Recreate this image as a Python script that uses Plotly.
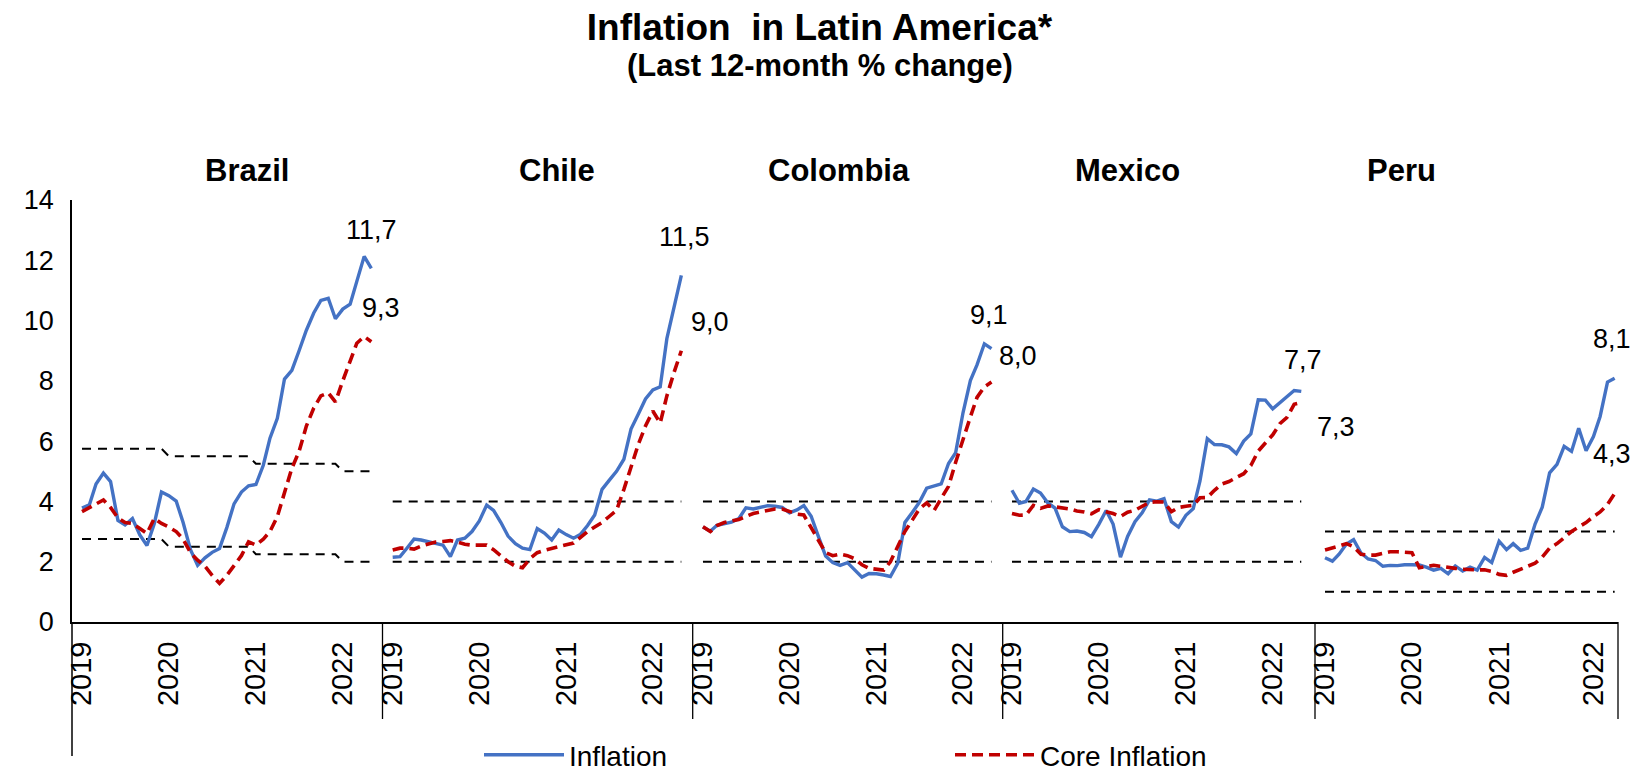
import pandas as pd
import plotly.graph_objects as go
from plotly.subplots import make_subplots

# Monthly data, Jan 2019 - May 2022 (last 12-month % change)
months = pd.date_range("2019-01-01", "2022-05-01", freq="MS")
countries = ["Brazil", "Chile", "Colombia", "Mexico", "Peru"]

brazil_infl = [3.78, 3.89, 4.58, 4.94, 4.66, 3.37, 3.22, 3.43, 2.89, 2.54, 3.27, 4.31,
               4.19, 4.01, 3.30, 2.40, 1.88, 2.13, 2.31, 2.44, 3.14, 3.92, 4.31, 4.52,
               4.56, 5.20, 6.10, 6.76, 8.06, 8.35, 8.99, 9.68, 10.25, 10.67, 10.74, 10.06,
               10.38, 10.54, 11.30, 12.13, 11.73]
brazil_core = [3.66, 3.80, 3.90, 4.05, 3.80, 3.45, 3.30, 3.27, 3.10, 2.94, 3.44, 3.27,
               3.15, 3.00, 2.75, 2.30, 2.05, 1.85, 1.55, 1.28, 1.55, 1.85, 2.20, 2.66,
               2.55, 2.75, 3.00, 3.50, 4.30, 5.10, 5.65, 6.50, 7.10, 7.50, 7.60, 7.30,
               8.00, 8.70, 9.25, 9.47, 9.30]

chile_infl = [2.15, 2.17, 2.44, 2.75, 2.72, 2.67, 2.62, 2.55, 2.17, 2.72, 2.78, 3.00,
              3.35, 3.88, 3.70, 3.30, 2.85, 2.60, 2.45, 2.40, 3.10, 2.95, 2.72, 3.05,
              2.90, 2.78, 2.90, 3.20, 3.55, 4.40, 4.70, 5.00, 5.40, 6.40, 6.90, 7.40,
              7.70, 7.80, 9.40, 10.50, 11.50]
chile_core = [2.39, 2.45, 2.45, 2.42, 2.52, 2.60, 2.65, 2.67, 2.70, 2.65, 2.58, 2.55,
              2.55, 2.55, 2.40, 2.20, 2.00, 1.85, 1.80, 2.10, 2.30, 2.38, 2.44, 2.50,
              2.55, 2.62, 2.80, 3.00, 3.15, 3.30, 3.50, 3.70, 4.40, 5.10, 5.90, 6.50,
              7.00, 6.60, 7.50, 8.30, 9.00]

colombia_infl = [3.15, 3.01, 3.21, 3.25, 3.31, 3.43, 3.79, 3.75, 3.82, 3.86, 3.84, 3.80,
                 3.62, 3.72, 3.86, 3.51, 2.85, 2.19, 1.97, 1.88, 1.97, 1.75, 1.49, 1.61,
                 1.60, 1.56, 1.51, 1.95, 3.30, 3.63, 3.97, 4.44, 4.51, 4.58, 5.26, 5.62,
                 6.94, 8.01, 8.53, 9.23, 9.07]
colombia_core = [3.16, 3.00, 3.20, 3.30, 3.35, 3.40, 3.50, 3.60, 3.65, 3.70, 3.75, 3.75,
                 3.65, 3.58, 3.55, 3.10, 2.72, 2.30, 2.20, 2.25, 2.20, 2.10, 1.90, 1.78,
                 1.75, 1.72, 2.00, 2.50, 3.00, 3.38, 3.75, 3.95, 3.70, 4.10, 4.50, 5.30,
                 6.10, 6.80, 7.45, 7.80, 7.96]

mexico_infl = [4.37, 3.94, 4.00, 4.41, 4.28, 3.95, 3.78, 3.16, 3.00, 3.02, 2.97, 2.83,
               3.24, 3.70, 3.25, 2.15, 2.84, 3.33, 3.62, 4.05, 4.01, 4.09, 3.33, 3.15,
               3.54, 3.76, 4.67, 6.08, 5.89, 5.88, 5.81, 5.59, 6.00, 6.24, 7.37, 7.36,
               7.07, 7.28, 7.45, 7.68, 7.65]
mexico_core = [3.60, 3.54, 3.55, 3.87, 3.77, 3.85, 3.82, 3.78, 3.75, 3.68, 3.65, 3.59,
               3.73, 3.66, 3.60, 3.50, 3.64, 3.71, 3.85, 3.97, 3.99, 3.98, 3.66, 3.80,
               3.84, 3.87, 4.12, 4.13, 4.37, 4.58, 4.66, 4.78, 4.92, 5.19, 5.67, 5.94,
               6.21, 6.59, 6.78, 7.22, 7.28]

peru_infl = [2.13, 2.02, 2.25, 2.59, 2.73, 2.29, 2.09, 2.04, 1.85, 1.88, 1.87, 1.90,
             1.90, 1.89, 1.82, 1.72, 1.78, 1.60, 1.86, 1.69, 1.82, 1.72, 2.14, 1.97,
             2.68, 2.40, 2.60, 2.38, 2.45, 3.25, 3.81, 4.95, 5.23, 5.83, 5.66, 6.43,
             5.68, 6.15, 6.82, 7.96, 8.09]
peru_core = [2.39, 2.45, 2.52, 2.60, 2.50, 2.25, 2.22, 2.22, 2.28, 2.33, 2.33, 2.32,
             2.30, 1.80, 1.85, 1.88, 1.85, 1.80, 1.78, 1.75, 1.73, 1.73, 1.73, 1.68,
             1.58, 1.55, 1.65, 1.75, 1.82, 1.95, 2.15, 2.45, 2.60, 2.80, 3.00, 3.15,
             3.30, 3.50, 3.65, 3.90, 4.26]

# Inflation target ranges (lower, upper) by year
brazil_target_low = {2019: 2.75, 2020: 2.5, 2021: 2.25, 2022: 2.0}
brazil_target_high = {2019: 5.75, 2020: 5.5, 2021: 5.25, 2022: 5.0}
chile_target = (2, 4)
colombia_target = (2, 4)
mexico_target = (2, 4)
peru_target = (1, 3)

infl = [brazil_infl, chile_infl, colombia_infl, mexico_infl, peru_infl]
core = [brazil_core, chile_core, colombia_core, mexico_core, peru_core]
bands = [
    ([brazil_target_low[d.year] for d in months], [brazil_target_high[d.year] for d in months]),
    ([chile_target[0]] * len(months), [chile_target[1]] * len(months)),
    ([colombia_target[0]] * len(months), [colombia_target[1]] * len(months)),
    ([mexico_target[0]] * len(months), [mexico_target[1]] * len(months)),
    ([peru_target[0]] * len(months), [peru_target[1]] * len(months)),
]

BLUE = "#4472C4"
RED = "#C00000"
FONT = "Liberation Sans, Arial, sans-serif"

# Geometry in page pixels; the page body adds an 8px offset to the figure
W, H = 1639, 773
OFF = 8
PL, PR, PT, PB = 72, 1618, 200, 622
edges = [72, 382.5, 692.7, 1002.7, 1315, 1618]
# x range of each panel, in months from Jan 2019
panel_ranges = [(-1.38, 41.49), (-1.41, 41.52), (-1.42, 41.5), (-1.28, 41.84), (-1.38, 40.41)]
# offsets (px) of the last-value labels: (infl dx, infl dy, core dx, core dy)
label_shift = [(0, 38, 10, 34), (3, 38, 29, 29), (-2, 34, 27, 26), (2, 31, 35, -24), (-3, 39, -3, 40)]


def mdate(m):
    return pd.Timestamp("2019-01-01") + pd.Timedelta(days=30.44 * m)


def px_x(p):
    return (p - PL) / (PR - PL)


def px_y(p):
    return (PB - p) / (PB - PT)


fig = make_subplots(rows=1, cols=5, shared_yaxes=True, horizontal_spacing=0)

for k, name in enumerate(countries):
    col = k + 1
    low, high = bands[k]
    for band in (high, low):
        fig.add_trace(go.Scatter(x=months, y=band, mode="lines", showlegend=False,
                                 line=dict(color="black", width=2, dash="9px,7px"),
                                 hoverinfo="skip"), row=1, col=col)
    fig.add_trace(go.Scatter(x=months, y=infl[k], mode="lines", name="Inflation",
                             legendgroup="infl", showlegend=(k == 0),
                             line=dict(color=BLUE, width=3.4)), row=1, col=col)
    fig.add_trace(go.Scatter(x=months, y=core[k], mode="lines", name="Core Inflation",
                             legendgroup="core", showlegend=(k == 0),
                             line=dict(color=RED, width=3.6, dash="11px,6px")), row=1, col=col)

    xa = "xaxis" if k == 0 else f"xaxis{col}"
    ticks = ["2019-01-01", "2020-01-01", "2021-01-01", "2022-01-01" if k < 4 else "2022-02-01"]
    r0, r1 = panel_ranges[k]
    fig.layout[xa].update(
        domain=[px_x(edges[k]), px_x(edges[k + 1])],
        range=[mdate(r0), mdate(r1)],
        tickvals=ticks, ticktext=["2019", "2020", "2021", "2022"],
        tickangle=-90, tickfont=dict(size=29, color="black"),
        showgrid=False, zeroline=False, showline=True, linecolor="black", linewidth=2,
        ticks="", ticklabelstandoff=6, automargin=False,
    )

    # last-value labels
    xref = "x" if k == 0 else f"x{col}"
    yref = "y" if k == 0 else f"y{col}"
    dx1, dy1, dx2, dy2 = label_shift[k]
    for series, dx, dy in ((infl[k], dx1, dy1), (core[k], dx2, dy2)):
        fig.add_annotation(x=months[-1], y=series[-1], xref=xref, yref=yref,
                           text=f"{series[-1]:.1f}".replace(".", ","), showarrow=False,
                           xanchor="center", yanchor="middle",
                           xshift=dx, yshift=dy, font=dict(size=27, color="black"))

# country titles
title_x = [247, 557, 839, 1127, 1401]
for name, tx in zip(countries, title_x):
    fig.add_annotation(x=px_x(tx), y=px_y(170), xref="paper", yref="paper", showarrow=False,
                       xanchor="center", yanchor="middle",
                       text=f"<b>{name}</b>", font=dict(size=31, color="black"))

fig.add_annotation(x=px_x(819.5), y=px_y(65), xref="paper", yref="paper", showarrow=False,
                   xanchor="center", yanchor="middle",
                   text="<b>(Last 12-month % change)</b>", font=dict(size=31, color="black"))

# category-axis separators below the x axis
for e in edges[1:]:
    fig.add_shape(type="line", xref="paper", yref="paper", x0=px_x(e), x1=px_x(e),
                  y0=0, y1=px_y(719), line=dict(color="black", width=1.3))
fig.add_shape(type="line", xref="paper", yref="paper", x0=0, x1=0,
              y0=0, y1=px_y(756), line=dict(color="black", width=1.5))

fig.update_yaxes(range=[0, 14], dtick=2, showgrid=False, zeroline=False, ticks="", automargin=False)
fig.update_yaxes(showline=True, linecolor="black", linewidth=1.5,
                 tickfont=dict(size=27, color="black"), ticklabelstandoff=11, row=1, col=1)

fig.update_layout(
    width=W, height=H,
    margin=dict(l=PL - OFF, r=W - (PR - OFF), t=PT - OFF, b=H - (PB - OFF)),
    paper_bgcolor="white", plot_bgcolor="white",
    font=dict(family=FONT, color="black"),
    title=dict(text="<b>Inflation\u00a0 in Latin America*</b>", x=(819.5 - OFF) / W, xanchor="center",
               xref="container", y=1 - (27 - OFF) / H, yref="container", yanchor="middle",
               font=dict(size=37, color="black")),
    showlegend=True,
    legend=dict(orientation="h", xref="container", x=(479 - OFF) / W, xanchor="left",
                yref="container", y=1 - (755 - OFF) / H, yanchor="middle",
                font=dict(size=28, color="black"), itemwidth=80,
                entrywidth=376, entrywidthmode="pixels", bgcolor="rgba(0,0,0,0)"),
)

fig.write_html("out.html")
